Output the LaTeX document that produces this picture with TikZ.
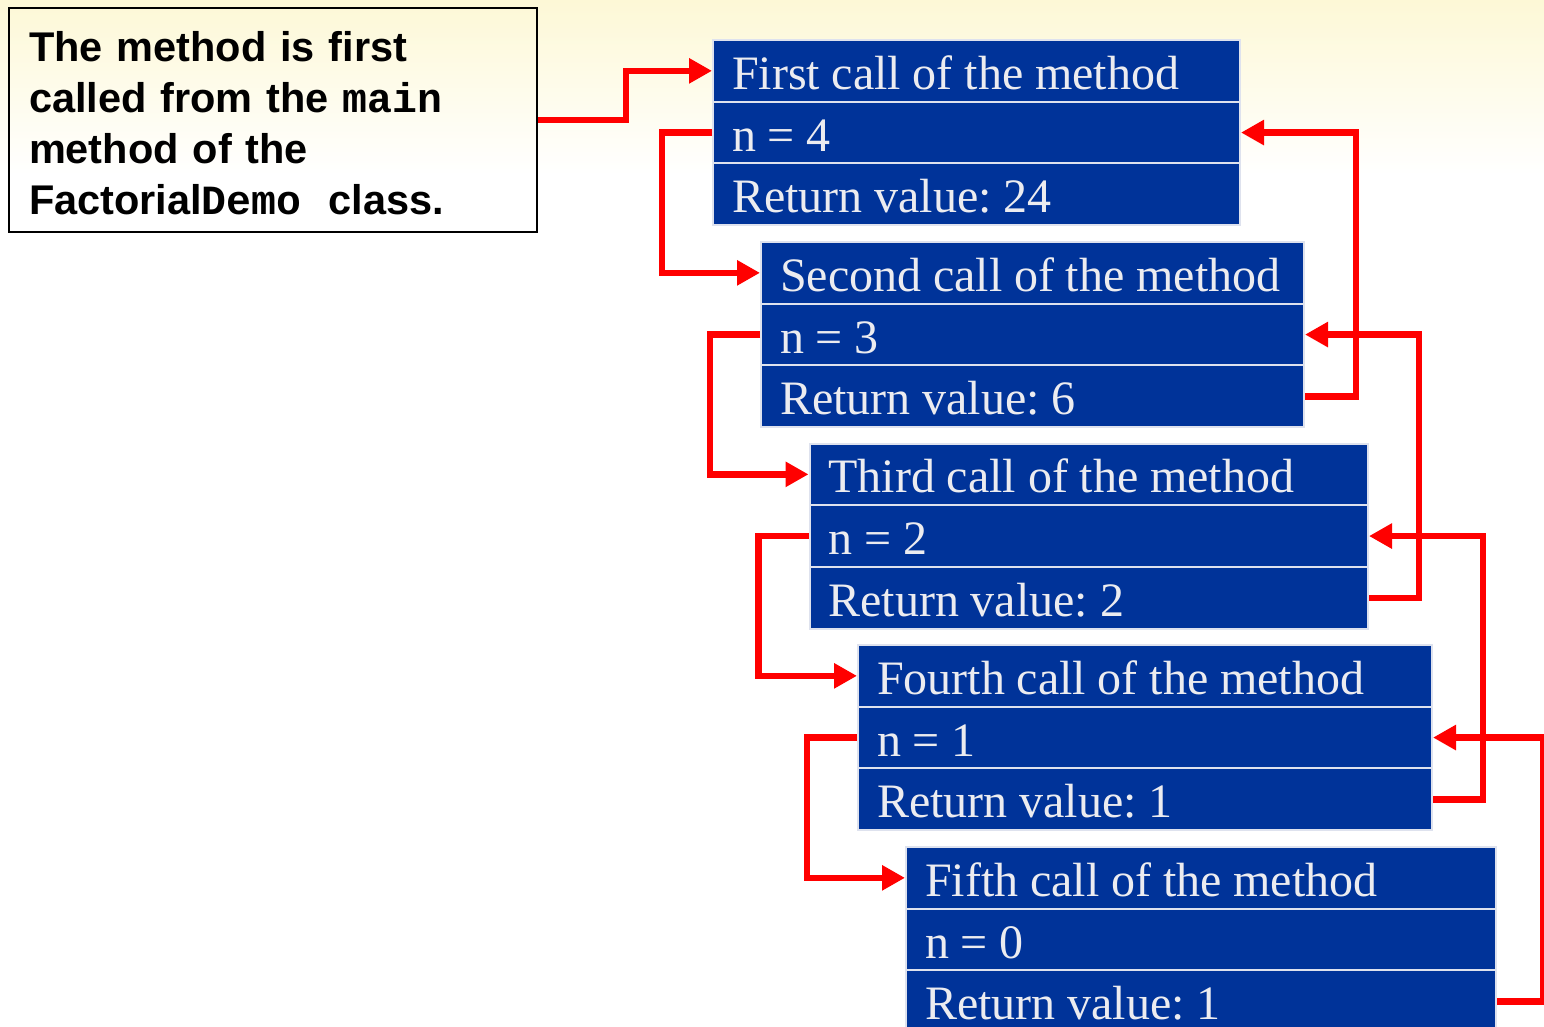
\documentclass[tikz,border=0pt]{standalone}
\usepackage{fontspec}
\setmainfont{Liberation Serif}
\setsansfont{Liberation Sans}
\setmonofont{Liberation Mono}
\usetikzlibrary{arrows.meta,calc}
\definecolor{callblue}{RGB}{0,51,153}
\definecolor{celltext}{RGB}{236,236,240}
\definecolor{cellline}{RGB}{222,226,238}
\definecolor{topyellow}{RGB}{253,248,214}
\definecolor{linkred}{RGB}{255,0,0}
\frenchspacing
\tikzset{
  row/.style={draw=cellline, line width=2pt, fill=callblue, text=celltext,
    font=\fontsize{48}{56}\selectfont, inner xsep=19pt, inner ysep=0pt,
    minimum height=61.7pt, align=left, text height=39pt, text depth=2pt,
    anchor=north west, execute at begin node={\spaceskip=11.8pt\relax}},
  link/.style={draw=linkred, line width=6.5pt, -{Triangle[length=23pt,width=24pt]}},
  intro/.style={draw=black, line width=2pt, anchor=north west, inner xsep=20pt,
    inner ysep=0pt, text width=488pt, align=left,
    font=\sffamily\bfseries\fontsize{41.5}{51}\selectfont}
}
\begin{document}
\begin{tikzpicture}[x=1pt,y=-1pt]
\useasboundingbox (0,0) rectangle (1544,1026);
\clip (0,0) rectangle (1544,1026);
\fill[white] (0,0) rectangle (1544,1026);
\shade[top color=topyellow, bottom color=white] (0,0) rectangle (1544,175);

\node[intro] (intro) at (8,7) {\rule{0pt}{53pt}The method is first\\
called from the {\ttfamily main}\\
method of the\\
Factorial{\ttfamily Demo}\hspace{27pt}class.\rule[-18pt]{0pt}{18pt}};

% first call
\node[row, text width=489pt] (c1t) at (712,39) {First call of the method};
\node[row, text width=489pt] (c1n) at (712,100.7) {n = 4};
\node[row, text width=489pt] (c1r) at (712,162.4) {Return value: 24};
% second call
\node[row, text width=505pt] (c2t) at (760,241) {Second call of the method};
\node[row, text width=505pt] (c2n) at (760,302.7) {n = 3};
\node[row, text width=505pt] (c2r) at (760,364.4) {Return value: 6};
% third call
\node[row, text width=520.5pt] (c3t) at (808.5,442.5) {Third call of the method};
\node[row, text width=520.5pt] (c3n) at (808.5,504.2) {n = 2};
\node[row, text width=520.5pt] (c3r) at (808.5,565.9) {Return value: 2};
% fourth call
\node[row, text width=536pt] (c4t) at (857,644) {Fourth call of the method};
\node[row, text width=536pt] (c4n) at (857,705.7) {n = 1};
\node[row, text width=536pt] (c4r) at (857,767.4) {Return value: 1};
% fifth call
\node[row, text width=552pt] (c5t) at (905,846) {Fifth call of the method};
\node[row, text width=552pt] (c5n) at (905,907.7) {n = 0};
\node[row, text width=552pt] (c5r) at (905,969.4) {Return value: 1};

% calls
\draw[link] (intro.east) -- ++(88,0) |- (c1t.west);
\draw[link] (c1n.west) -- ++(-50,0) |- (c2t.west);
\draw[link] (c2n.west) -- ++(-50,0) |- (c3t.west);
\draw[link] (c3n.west) -- ++(-50,0) |- (c4t.west);
\draw[link] (c4n.west) -- ++(-50,0) |- (c5t.west);
% returns
\draw[link] (c2r.east) -- ++(51,0) |- (c1n.east);
\draw[link] (c3r.east) -- ++(50,0) |- (c2n.east);
\draw[link] (c4r.east) -- ++(50,0) |- (c3n.east);
\draw[link] (c5r.east) -- ++(46,0) |- (c4n.east);
\end{tikzpicture}
\end{document}
